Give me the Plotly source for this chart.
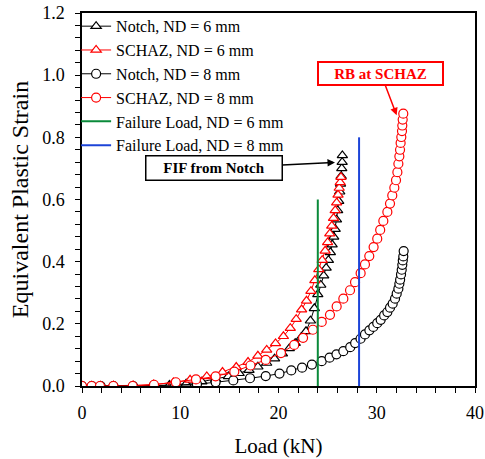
import plotly.graph_objects as go

notch6_x = [0, 1.0, 1.9, 3.2, 5.2, 7.2, 8.9, 10.6, 12.2, 13.6, 14.9, 16.0, 17.0, 17.9, 18.8, 19.6, 20.4, 21.1,
            21.7, 22.3, 22.8, 23.25, 23.65, 24.0, 24.3, 24.6, 24.85, 25.08, 25.28, 25.46, 25.62, 25.77, 25.9,
            26.02, 26.13, 26.23, 26.31, 26.38, 26.44, 26.48, 26.5]
notch6_y = [0, 0, 0, 0, 0, 0.001, 0.003, 0.007, 0.014, 0.022, 0.031, 0.041, 0.051, 0.062, 0.074, 0.088, 0.104,
            0.121, 0.138, 0.156, 0.176, 0.21, 0.25, 0.295, 0.325, 0.355, 0.38, 0.405, 0.43, 0.455, 0.48, 0.505,
            0.535, 0.565, 0.595, 0.625, 0.65, 0.675, 0.7, 0.72, 0.742]

schaz6_x = [0, 1.0, 1.9, 3.2, 5.2, 7.3, 9.3, 11.0, 12.7, 14.3, 15.7, 16.9, 17.9, 18.8, 19.7, 20.5, 21.2, 21.8,
            22.35, 22.85, 23.3, 23.7, 24.1, 24.45, 24.75, 25.0, 25.22, 25.42, 25.6, 25.77, 25.92, 26.06, 26.18,
            26.28, 26.36]
schaz6_y = [0, 0, 0, 0.001, 0.002, 0.005, 0.011, 0.02, 0.031, 0.045, 0.061, 0.077, 0.097, 0.116, 0.137, 0.16,
            0.186, 0.215, 0.246, 0.274, 0.305, 0.34, 0.375, 0.405, 0.435, 0.462, 0.49, 0.515, 0.54, 0.565, 0.59,
            0.615, 0.637, 0.655, 0.672]

notch8_x = [0, 1.0, 1.9, 3.2, 5.2, 7.3, 9.5, 11.7, 13.6, 15.4, 17.1, 18.7, 20.1, 21.3, 22.4, 23.4, 24.4, 25.2,
            25.9, 26.6, 27.3, 27.8, 28.35, 28.8, 29.25, 29.65, 30.05, 30.4, 30.75, 31.08, 31.35, 31.62, 31.86,
            32.03, 32.2, 32.3, 32.38, 32.47, 32.54, 32.6, 32.65, 32.7, 32.74]
notch8_y = [0, 0, 0, 0, 0, 0.001, 0.003, 0.006, 0.012, 0.018, 0.025, 0.032, 0.04, 0.05, 0.059, 0.069, 0.08,
            0.091, 0.102, 0.112, 0.125, 0.138, 0.152, 0.166, 0.179, 0.19, 0.202, 0.213, 0.227, 0.238, 0.252,
            0.265, 0.281, 0.297, 0.313, 0.329, 0.342, 0.359, 0.374, 0.39, 0.404, 0.417, 0.434]

schaz8_x = [0, 0.98, 1.83, 3.19, 5.16, 7.33, 9.55, 11.6, 13.6, 15.5, 17.15, 18.7, 20.25, 21.6, 22.5, 23.5, 24.4,
            25.24, 25.92, 26.6, 27.28, 27.79, 28.36, 28.8, 29.24, 29.68, 30.05, 30.35, 30.67, 31.08, 31.35, 31.58,
            31.79, 31.96, 32.1, 32.2, 32.3, 32.37, 32.43, 32.5, 32.57, 32.6, 32.64, 32.7]
schaz8_y = [0, 0, 0, 0, 0, 0.004, 0.012, 0.021, 0.031, 0.046, 0.066, 0.084, 0.106, 0.132, 0.155, 0.181, 0.206,
            0.229, 0.256, 0.281, 0.308, 0.334, 0.363, 0.391, 0.418, 0.447, 0.474, 0.502, 0.531, 0.56, 0.587,
            0.613, 0.638, 0.662, 0.688, 0.715, 0.739, 0.76, 0.782, 0.801, 0.82, 0.838, 0.857, 0.876]

fl6_x = [24.0, 24.0]
fl6_y = [0, 0.6]
fl8_x = [28.2, 28.2]
fl8_y = [0, 0.8]

FONT = "Times New Roman, Liberation Serif, serif"

fig = go.Figure()

def marker_trace(x, y, name, color, symbol, size):
    return go.Scatter(
        x=x, y=y, name=name, mode="lines+markers",
        line=dict(color=color, width=1),
        marker=dict(symbol=symbol, size=size, color="white", line=dict(color=color, width=1.2)),
    )

fig.add_trace(marker_trace(notch6_x, notch6_y, "Notch, ND = 6 mm", "black", "triangle-up", 9))
fig.add_trace(marker_trace(schaz6_x, schaz6_y, "SCHAZ, ND = 6 mm", "red", "triangle-up", 9))
fig.add_trace(marker_trace(notch8_x, notch8_y, "Notch, ND = 8 mm", "black", "circle", 9))
fig.add_trace(marker_trace(schaz8_x, schaz8_y, "SCHAZ, ND = 8 mm", "red", "circle", 9))
fig.add_trace(go.Scatter(x=fl6_x, y=fl6_y, name="Failure Load, ND = 6 mm", mode="lines",
                         line=dict(color="#0a8a3a", width=2)))
fig.add_trace(go.Scatter(x=fl8_x, y=fl8_y, name="Failure Load, ND = 8 mm", mode="lines",
                         line=dict(color="#1c44d8", width=2)))

fig.add_annotation(
    x=32.03, y=0.871, xref="x", yref="y", ax=-16, ay=-42, axref="pixel", ayref="pixel",
    text="<b>RB at SCHAZ</b>", font=dict(family=FONT, size=15, color="red"),
    showarrow=True, arrowhead=2, arrowsize=1, arrowwidth=1.5, arrowcolor="red",
    bordercolor="red", borderwidth=2, borderpad=1, bgcolor="white", width=121, height=19,
)
fig.add_annotation(
    x=25.75, y=0.719, xref="x", yref="y", ax=-121, ay=5.5, axref="pixel", ayref="pixel",
    text="<b>FIF from Notch</b>", font=dict(family=FONT, size=15, color="black"),
    showarrow=True, arrowhead=2, arrowsize=1, arrowwidth=1.5, arrowcolor="black",
    bordercolor="black", borderwidth=1.5, borderpad=1, bgcolor="white", width=133, height=21,
)

axis_common = dict(
    showline=True, linecolor="black", linewidth=1.5, mirror=True,
    showgrid=False, zeroline=False,
    ticks="outside", ticklen=5, tickwidth=1, tickcolor="black",
    tickfont=dict(family=FONT, size=18, color="black"),
)

fig.update_xaxes(
    range=[0, 40], dtick=10, tick0=0, ticklabelstandoff=5,
    title=dict(text="Load (kN)", font=dict(family=FONT, size=21, color="black"), standoff=16),
    minor=dict(dtick=2, ticks="outside", ticklen=5, tickcolor="black", showgrid=False),
    **axis_common,
)
fig.update_yaxes(
    range=[0, 1.2], dtick=0.2, tick0=0, tickformat=".1f", ticklabelstandoff=7,
    title=dict(text="Equivalent Plastic Strain", font=dict(family=FONT, size=24, color="black"), standoff=7),
    minor=dict(dtick=0.04, ticks="outside", ticklen=5, tickcolor="black", showgrid=False),
    **axis_common,
)

fig.update_layout(
    width=485, height=459,
    margin=dict(l=82, r=10, t=13, b=73, autoexpand=False),
    plot_bgcolor="white", paper_bgcolor="white",
    font=dict(family=FONT, color="black"),
    showlegend=True,
    legend=dict(x=-0.015, y=1.01, xanchor="left", yanchor="top", bgcolor="rgba(0,0,0,0)",
                font=dict(family=FONT, size=16, color="black"), itemwidth=30,
                tracegroupgap=0),
)

fig.write_html("out.html")
